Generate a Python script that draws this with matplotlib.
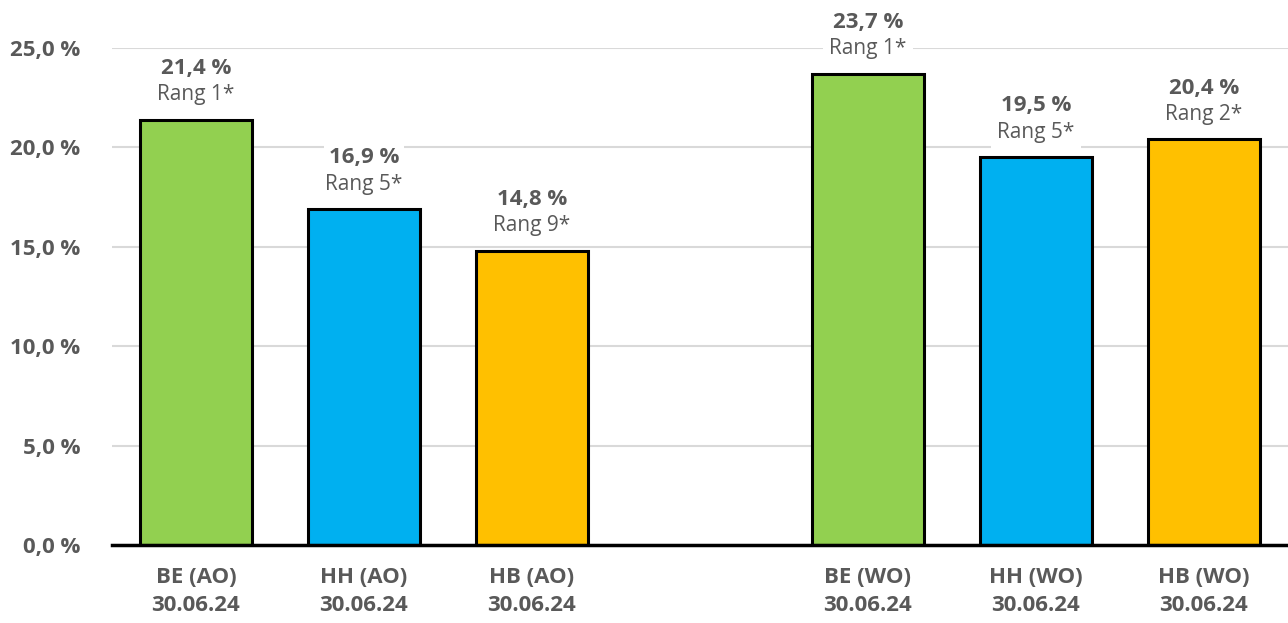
import matplotlib.pyplot as plt
from matplotlib.ticker import FuncFormatter

plt.rcParams['font.family'] = ['Open Sans', 'DejaVu Sans']

categories = ["BE (AO)\n30.06.24", "HH (AO)\n30.06.24", "HB (AO)\n30.06.24", "",
              "BE (WO)\n30.06.24", "HH (WO)\n30.06.24", "HB (WO)\n30.06.24"]
values = [21.4, 16.9, 14.8, None, 23.7, 19.5, 20.4]
ranks = ["Rang 1*", "Rang 5*", "Rang 9*", "", "Rang 1*", "Rang 5*", "Rang 2*"]
colors = ["#92d050", "#00b0f0", "#ffc000", "none", "#92d050", "#00b0f0", "#ffc000"]

text_col = "#595959"

fig = plt.figure(figsize=(12.88, 6.23), dpi=100)
ax = fig.add_axes([112 / 1288, 78 / 623, 1176 / 1288, 497 / 623])

for i, (v, c) in enumerate(zip(values, colors)):
    if v is None:
        continue
    ax.bar(i, v, width=0.67, color=c, edgecolor="black", linewidth=2.2, zorder=3)
    ax.annotate(ranks[i], (i, v), xytext=(0, 18), textcoords="offset points",
                ha="center", va="center", fontsize=15, color=text_col, zorder=5,
                annotation_clip=False,
                bbox=dict(boxstyle="square,pad=0.3", fc="white", ec="none"))
    ax.annotate(f"{v:.1f} %".replace(".", ","), (i, v), xytext=(0, 37),
                textcoords="offset points", ha="center", va="center",
                fontsize=16, fontweight="bold", color=text_col, zorder=5,
                annotation_clip=False,
                bbox=dict(boxstyle="square,pad=0.2", fc="white", ec="none"))

ax.set_xlim(-0.5, 6.5)
ax.set_ylim(0, 25)
ax.set_yticks([0, 5, 10, 15, 20, 25])
ax.yaxis.set_major_formatter(FuncFormatter(lambda y, _: f"{y:.1f} %".replace(".", ",")))
ax.set_xticks(range(len(categories)))
ax.set_xticklabels(categories, linespacing=1.4)
ax.tick_params(axis="both", length=0, labelsize=16, colors=text_col)
ax.tick_params(axis="x", pad=16)
ax.tick_params(axis="y", pad=23)
for lab in ax.get_xticklabels() + ax.get_yticklabels():
    lab.set_fontweight("bold")

ax.grid(axis="y", color="#d9d9d9", linewidth=1.5, zorder=0)
ax.set_axisbelow(True)
for s in ["top", "right", "left"]:
    ax.spines[s].set_visible(False)
ax.spines["bottom"].set_linewidth(2.5)
ax.spines["bottom"].set_color("black")
ax.spines["bottom"].set_zorder(4)

fig.savefig("out.png", dpi=100)
